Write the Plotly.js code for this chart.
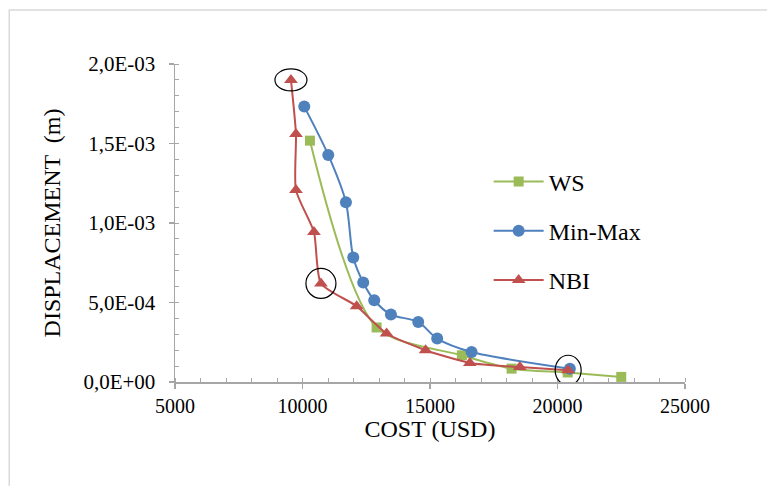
<!DOCTYPE html>
<html>
<head>
<meta charset="utf-8">
<script src="https://cdn.plot.ly/plotly-3.0.1.min.js"></script>
<style>html,body{margin:0;padding:0;background:#fff;}#chart{width:767px;height:486px;}</style>
</head>
<body>
<div id="chart"></div>
<script>
// WS series
const wsCost = [10292, 12907, 16250, 18200, 20400, 22500];
const wsDisp = [1.518e-3, 3.43e-4, 1.68e-4, 8.4e-5, 6.0e-5, 3.2e-5];
// Min-Max series
const mmCost = [10069, 11010, 11703, 11990, 12381, 12813, 13467, 14538, 15282, 16630, 20484];
const mmDisp = [1.732e-3, 1.428e-3, 1.13e-3, 7.83e-4, 6.26e-4, 5.14e-4, 4.24e-4, 3.78e-4, 2.73e-4, 1.89e-4, 8.4e-5];
// NBI series
const nbiCost = [9547, 9743, 9743, 10449, 10723, 12123, 13298, 14827, 16564, 18524, 20418];
const nbiDisp = [1.90e-3, 1.56e-3, 1.207e-3, 9.43e-4, 6.2e-4, 4.77e-4, 3.05e-4, 2.0e-4, 1.2e-4, 9.4e-5, 7.4e-5];
// highlighted NBI points (indices)
const circled = [0, 4, 10];
// tick labels
const yTickVals = [0, 5e-4, 1e-3, 1.5e-3, 2e-3];
const yTickText = ["0,0E+00", "5,0E-04", "1,0E-03", "1,5E-03", "2,0E-03"];
const xTickVals = [5000, 10000, 15000, 20000, 25000];
const xTickText = ["5000", "10000", "15000", "20000", "25000"];

const serif = "Liberation Serif, Times New Roman, serif";

const traces = [
  {x: wsCost, y: wsDisp, name: "WS", mode: "lines+markers", legendgroup: "a",
   line: {color: "#9bbb59", width: 2, shape: "spline", smoothing: 0.8},
   marker: {symbol: "square", size: 10, color: "#9bbb59"}},
  {x: mmCost, y: mmDisp, name: "Min-Max", mode: "lines+markers", legendgroup: "b",
   line: {color: "#4f81bd", width: 2, shape: "spline", smoothing: 0.8},
   marker: {symbol: "circle", size: 12, color: "#4f81bd"}},
  {x: nbiCost, y: nbiDisp, name: "NBI", mode: "lines+markers", legendgroup: "c",
   line: {color: "#c0504d", width: 2, shape: "spline", smoothing: 0.6},
   marker: {symbol: "triangle-up", size: 12, color: "#c0504d"}}
];

const shapes = [
  {type: "rect", xref: "paper", yref: "paper", x0: -0.325, x1: 1.3, y0: -0.4, y1: 1.17,
   line: {color: "#d9d9d9", width: 1.5}, fillcolor: "rgba(0,0,0,0)", layer: "below"}
];
const sizes = [[32, 22], [30, 30], [26, 30]];
circled.forEach((idx, k) => {
  const w = sizes[k][0] / 2, h = sizes[k][1] / 2;
  shapes.push({type: "circle", xref: "x", yref: "y", xsizemode: "pixel", ysizemode: "pixel",
    xanchor: nbiCost[idx], yanchor: nbiDisp[idx], x0: -w, x1: w, y0: -h, y1: h,
    line: {color: "#000", width: 1.2}});
});

const axisCommon = {
  showgrid: false, zeroline: false, showline: true, linecolor: "#a6a6a6", linewidth: 1.5,
  ticks: "outside", ticklen: 5, tickcolor: "#a6a6a6", tickwidth: 1.5
};

const layout = {
  width: 767, height: 486,
  margin: {l: 175, r: 82, t: 64, b: 104},
  paper_bgcolor: "#fff", plot_bgcolor: "#fff",
  showlegend: true,
  legend: {x: 0.615, y: 0.70, xanchor: "left", yanchor: "top",
           font: {family: serif, size: 24, color: "#000"}, itemwidth: 50,
           bgcolor: "rgba(0,0,0,0)", traceorder: "grouped", tracegroupgap: 15},
  xaxis: Object.assign({}, axisCommon, {
    range: [5000, 25000], tickmode: "array", tickvals: xTickVals, ticktext: xTickText,
    tickfont: {family: serif, size: 20, color: "#000"},
    minor: {dtick: 1000, ticks: "inside", ticklen: 4, tickcolor: "#a6a6a6", tickwidth: 1},
    title: {text: "COST (USD)", font: {family: serif, size: 24, color: "#000"}, standoff: 0}
  }),
  yaxis: Object.assign({}, axisCommon, {
    range: [0, 2e-3], tickmode: "array", tickvals: yTickVals, ticktext: yTickText,
    tickfont: {family: serif, size: 21, color: "#000"}, ticklabelstandoff: 9,
    minor: {dtick: 1e-4, ticks: "inside", ticklen: 4, tickcolor: "#a6a6a6", tickwidth: 1},
    title: {text: "DISPLACEMENT  (m)", font: {family: serif, size: 24, color: "#000"}, standoff: 16}
  }),
  shapes: shapes
};

Plotly.newPlot("chart", traces, layout, {displayModeBar: false, staticPlot: true});
</script>
</body>
</html>
